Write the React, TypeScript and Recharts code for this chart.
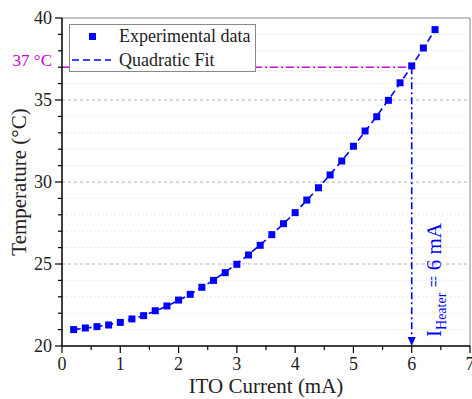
import React from "react"
import {
  ComposedChart,
  Scatter,
  Line,
  XAxis,
  YAxis,
  ReferenceLine,
  Label,
} from "recharts"

// ITO current (mA)
const current = [
  0.2, 0.4, 0.6, 0.8, 1.0, 1.2, 1.4, 1.6, 1.8, 2.0, 2.2, 2.4, 2.6, 2.8, 3.0, 3.2,
  3.4, 3.6, 3.8, 4.0, 4.2, 4.4, 4.6, 4.8, 5.0, 5.2, 5.4, 5.6, 5.8, 6.0, 6.2, 6.4,
]
// measured temperature (°C)
const measured = [
  21.0, 21.1, 21.18, 21.28, 21.44, 21.65, 21.85, 22.15, 22.44, 22.8, 23.15, 23.58,
  24.0, 24.47, 24.98, 25.55, 26.14, 26.79, 27.46, 28.13, 28.9, 29.65, 30.43, 31.28,
  32.18, 33.11, 33.98, 34.98, 36.05, 37.08, 38.17, 39.29,
]
// quadratic fit
const fitted = [
  21.0, 21.08, 21.18, 21.3, 21.45, 21.63, 21.86, 22.12, 22.43, 22.78, 23.15, 23.57,
  24.02, 24.5, 25.02, 25.57, 26.16, 26.79, 27.45, 28.15, 28.88, 29.65, 30.45, 31.29,
  32.17, 33.08, 34.02, 35.0, 36.02, 37.07, 38.16, 39.28,
]

const xTicks = [0, 1, 2, 3, 4, 5, 6, 7]
const xMinor = [0.5, 1.5, 2.5, 3.5, 4.5, 5.5, 6.5]
const yTicks = [20, 25, 30, 35, 40]
const yMinor = [21, 22, 23, 24, 26, 27, 28, 29, 31, 32, 33, 34, 36, 37, 38, 39]

const heaterCurrent = 6
const bodyTemp = 37

const BLUE = "#0000ff"
const PURPLE = "#c800d0"
const FONT = "'Liberation Serif', 'Times New Roman', serif"

const data = current.map((x, i) => ({ x, temp: measured[i], fit: fitted[i] }))

const allX = [...xTicks, ...xMinor].sort((a, b) => a - b)
const allY = [...yTicks, ...yMinor].sort((a, b) => a - b)

const XTick = (props: any) => {
  const { x, y, payload } = props
  const major = xTicks.includes(payload.value)
  return (
    <g>
      <line x1={x} x2={x} y1={y} y2={y + (major ? 7 : 4)} stroke="#000" strokeWidth={1.2} />
      {major && (
        <text x={x} y={y + 24} textAnchor="middle" fontSize={18} fontFamily={FONT} fill="#222">
          {payload.value}
        </text>
      )}
    </g>
  )
}

const YTick = (props: any) => {
  const { x, y, payload } = props
  const major = yTicks.includes(payload.value)
  return (
    <g>
      <line x1={x - (major ? 7 : 4)} x2={x} y1={y} y2={y} stroke="#000" strokeWidth={1.2} />
      {major && (
        <text x={x - 10} y={y + 6} textAnchor="end" fontSize={18} fontFamily={FONT} fill="#222">
          {payload.value}
        </text>
      )}
    </g>
  )
}

const Square = (props: any) => {
  const { cx, cy } = props
  return <rect x={cx - 3.5} y={cy - 3.5} width={7} height={7} fill={BLUE} />
}

const ArrowLine = (props: any) => {
  const { x1, y1, x2, y2 } = props
  return (
    <g>
      <line x1={x1} y1={y1} x2={x2} y2={y2 - 6} stroke={BLUE} strokeWidth={1.6} strokeDasharray="7 3 2 3" />
      <path d={`M${x2 - 4},${y2 - 9} L${x2 + 4},${y2 - 9} L${x2},${y2} Z`} fill={BLUE} />
    </g>
  )
}

const LegendBox = () => (
  <svg
    width={187}
    height={48}
    style={{ position: "absolute", left: 69, top: 24, background: "#fff" }}
  >
    <rect x={0.5} y={0.5} width={186} height={47} fill="#fff" stroke="#888" />
    <rect x={20} y={9} width={7} height={7} fill={BLUE} />
    <line x1={3} x2={42} y1={36} y2={36} stroke={BLUE} strokeWidth={1.6} strokeDasharray="7 4" />
    <text x={50} y={18} fontSize={18} fontFamily={FONT} fill="#222">Experimental data</text>
    <text x={50} y={42} fontSize={18} fontFamily={FONT} fill="#222">Quadratic Fit</text>
  </svg>
)

export default function App() {
  return (
    <div style={{ position: "absolute", left: 0, top: 0, width: 472, height: 399, background: "#fff" }}>
      <ComposedChart
        width={472}
        height={399}
        data={data}
        margin={{ top: 18, right: 2, bottom: 0, left: 0 }}
      >
        {yMinor.map((v) => (
          <ReferenceLine key={`gm-${v}`} y={v} stroke="#ececec" strokeDasharray="2 2" />
        ))}
        {[25, 30, 35].map((v) => (
          <ReferenceLine key={`gj-${v}`} y={v} stroke="#b0b0b0" strokeDasharray="3 3" />
        ))}
        <ReferenceLine y={40} stroke="#888" />
        <ReferenceLine x={7} stroke="#888" />
        <XAxis
          dataKey="x"
          type="number"
          domain={[0, 7]}
          ticks={allX}
          interval={0}
          tickSize={0}
          tickMargin={0}
          tick={<XTick />}
          axisLine={{ stroke: "#000", strokeWidth: 1.5 }}
          height={53}
        >
          <Label
            value="ITO Current (mA)"
            position="insideBottom"
            offset={6}
            style={{ fontFamily: FONT, fontSize: 21, fill: "#222" }}
          />
        </XAxis>
        <YAxis
          type="number"
          domain={[20, 40]}
          ticks={allY}
          interval={0}
          tickSize={0}
          tickMargin={0}
          tick={<YTick />}
          axisLine={{ stroke: "#000", strokeWidth: 1.5 }}
          width={62}
        >
          <Label
            value="Temperature (°C)"
            angle={-90}
            position="insideLeft"
            offset={19}
            style={{ fontFamily: FONT, fontSize: 21, fill: "#222", textAnchor: "middle" }}
          />
        </YAxis>
        <ReferenceLine
          segment={[
            { x: 0, y: bodyTemp },
            { x: heaterCurrent, y: bodyTemp },
          ]}
          stroke={PURPLE}
          strokeWidth={1.6}
          strokeDasharray="8 3 2 3"
          label={(p: any) => (
            <text
              x={p.viewBox.x - 10}
              y={p.viewBox.y - 1}
              textAnchor="end"
              fontSize={17}
              fontFamily={FONT}
              fill={PURPLE}
            >
              37 °C
            </text>
          )}
        />
        <ReferenceLine
          segment={[
            { x: heaterCurrent, y: bodyTemp },
            { x: heaterCurrent, y: 20 },
          ]}
          shape={<ArrowLine />}
        />
        <Line
          dataKey="fit"
          stroke={BLUE}
          strokeWidth={1.6}
          strokeDasharray="7 4"
          dot={false}
          isAnimationActive={false}
          legendType="none"
        />
        <Scatter dataKey="temp" shape={<Square />} isAnimationActive={false} />
        <text
          transform="translate(441, 280) rotate(-90)"
          textAnchor="middle"
          fontFamily={FONT}
          fontSize={21}
          fill={BLUE}
        >
          I<tspan fontSize={14} dy={5}>Heater</tspan>
          <tspan dy={-5}> = 6 mA</tspan>
        </text>
      </ComposedChart>
      <LegendBox />
    </div>
  )
}
